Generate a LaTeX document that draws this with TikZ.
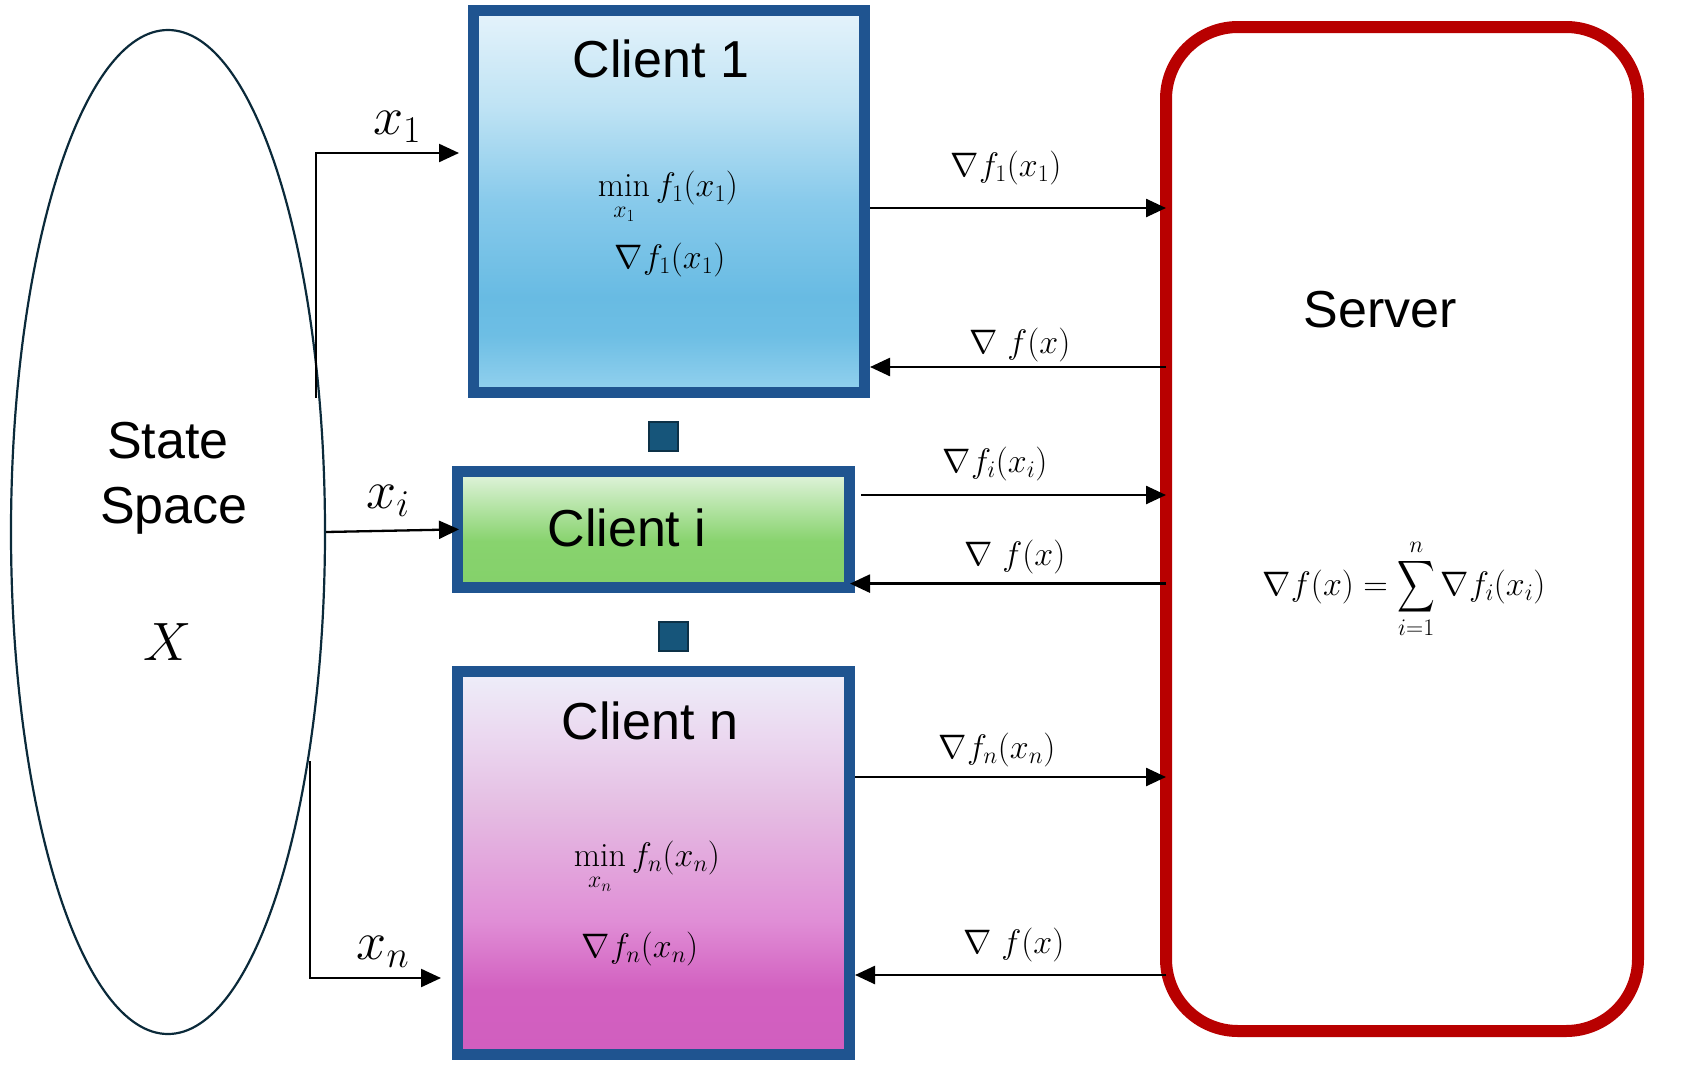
\RequirePackage{fix-cm}
\documentclass[tikz,border=0pt]{standalone}
\usepackage{amsmath}
\usepackage{exscale}
\usepackage{graphicx}
\usepackage{fontspec}
\setsansfont{Liberation Sans}
\usetikzlibrary{arrows.meta,shapes.geometric,calc}

% colours
\definecolor{boxblue}{HTML}{1F5490}
\definecolor{srvred}{HTML}{B80000}
\definecolor{sqfill}{HTML}{16557A}
\definecolor{sqline}{HTML}{0D3147}
\definecolor{ellline}{HTML}{0B2A3A}
% client 1 gradient (top to bottom: a..f)
\definecolor{ca}{HTML}{E5F3FB}
\definecolor{cb}{HTML}{BFE3F4}
\definecolor{cc}{HTML}{88CAEB}
\definecolor{cd}{HTML}{68BBE3}
\definecolor{ce}{HTML}{6DBEE4}
\definecolor{cf}{HTML}{93D1EE}
% client i gradient
\definecolor{ga}{HTML}{E3F4DF}
\definecolor{gb}{HTML}{B5E4A6}
\definecolor{gc}{HTML}{88D36E}
\definecolor{gd}{HTML}{84D16A}
% client n gradient
\definecolor{pa}{HTML}{EEEEF9}
\definecolor{pb}{HTML}{EAD4EE}
\definecolor{pc}{HTML}{E5BEE3}
\definecolor{pd}{HTML}{E08ED6}
\definecolor{pe}{HTML}{D260C0}
\definecolor{pf}{HTML}{D15EBF}

% vertical shadings: the box spans 25bp (bottom) to 75bp (top)
\pgfdeclareverticalshading{blueshade}{100bp}{color(0bp)=(cf); color(25bp)=(cf);
  color(32.5bp)=(ce); color(37.5bp)=(cd); color(50bp)=(cc); color(62.5bp)=(cb);
  color(75bp)=(ca); color(100bp)=(ca)}
\pgfdeclareverticalshading{greenshade}{100bp}{color(0bp)=(gd); color(25bp)=(gd);
  color(45bp)=(gc); color(60bp)=(gb); color(75bp)=(ga); color(100bp)=(ga)}
\pgfdeclareverticalshading{pinkshade}{100bp}{color(0bp)=(pf); color(25bp)=(pf);
  color(33.5bp)=(pe); color(42.5bp)=(pd); color(57.5bp)=(pc); color(65bp)=(pb);
  color(75bp)=(pa); color(100bp)=(pa)}

% min with its variable set a little lower under it
\newcommand{\minover}[1]{\min\limits_{\lower7pt\hbox{$\scriptstyle #1$}}}
% tall summation sign
\newcommand{\tallsum}{\mathop{\vcenter{\hbox{\scalebox{1.05}[1.45]{$\displaystyle\sum$}}}}\limits}

\begin{document}
\begin{tikzpicture}[x=1pt,y=-1pt,
  clientbox/.style={draw=boxblue, line width=11pt, inner sep=0pt,
    minimum width=392pt},
  title/.style={font=\sffamily\fontsize{52}{60}\selectfont, anchor=base, inner sep=0pt},
  smallmath/.style={font=\fontsize{34}{40}\selectfont, anchor=base, inner sep=0pt},
  bigmath/.style={font=\fontsize{54}{60}\selectfont, anchor=base, inner sep=0pt},
  dots/.style={draw=sqline, fill=sqfill, line width=2pt, minimum size=29pt, inner sep=0pt},
  arr/.style={line width=2.5pt, -{Triangle[length=20pt,width=18pt]}},
  feed/.style={line width=2.3pt, -{Triangle[length=20pt,width=18pt]}}]

\path[use as bounding box] (0,0) rectangle (1686,1068);

% state space
\node[ellipse, draw=ellline, line width=2.2pt, minimum width=314pt,
  minimum height=1004pt, inner sep=0pt] (ell) at (168,532) {};
\node[title] (st1) at (168,458) {State};
\node[title] (st2) at (174,523) {Space};
\node[bigmath] (xx) at (168,660) {$X$};

% clients
\node[clientbox, shading=blueshade, minimum width=391pt, minimum height=382pt]
  (c1) at (669,201.5) {};
\node[clientbox, shading=greenshade, minimum height=116pt] (ci) at (653.5,529.5) {};
\node[clientbox, shading=pinkshade, minimum height=383pt] (cn) at (653.5,863) {};

\node[title] (t1) at (661,77.5) {Client 1};
\node[smallmath] (m1) at (668,196) {$\minover{x_1} f_1(x_1)$};
\node[smallmath] (g1) at (670,268.6) {$\nabla f_1(x_1)$};
\node[title] (ti) at (627,546) {Client i};
\node[title] (tn) at (650,739.5) {Client n};
\node[smallmath] (mn) at (647,866) {$\minover{x_n} f_n(x_n)$};
\node[smallmath] (gn) at (640,957) {$\nabla f_n(x_n)$};

% ellipsis markers between clients
\node[dots] (d1) at (663,436) {};
\node[dots] (d2) at (673.5,636) {};

% server
\node[draw=srvred, line width=12pt, rounded corners=72pt, minimum width=472pt,
  minimum height=1004pt, inner sep=0pt, outer sep=0pt] (srv) at (1402,529) {};
\node[title] (stxt) at (1380,327) {Server};
\node[smallmath] (sum) at (1404,595)
  {$\nabla f(x) = \tallsum_{i=1}^{n} \nabla f_i(x_i)$};

% states sent to the clients
\coordinate (e1) at (316,398);
\coordinate (en) at (310,761);
\draw[feed, shorten >=9pt] (e1) |- (c1.west |- 0,153);
\draw[feed, shorten >=-7pt] (ell.east) -- (ci.west);
\draw[feed, shorten >=11pt] (en) |- (cn.west |- 0,978);
\node[bigmath] (lx1) at (397,134) {$x_1$};
\node[bigmath] (lxi) at (388,508) {$x_i$};
\node[bigmath] (lxn) at (383,959) {$x_n$};

% gradients exchanged with the server
\draw[arr] (c1.east |- 0,208) -- (srv.west |- 0,208);
\draw[arr] (srv.west |- 0,367) -- (c1.east |- 0,367);
\draw[arr, shorten <=6pt] (ci.east |- 0,495) -- (srv.west |- 0,495);
\draw[arr, shorten >=-5pt] (srv.west |- 0,583.6) -- (ci.east |- 0,583.6);
\draw[arr] (cn.east |- 0,777) -- (srv.west |- 0,777);
\draw[arr] (srv.west |- 0,975) -- (cn.east |- 0,975);

\node[smallmath] (a1) at (1006,176) {$\nabla f_1(x_1)$};
\node[smallmath] (b1) at (1020,353) {$\nabla\; f(x)$};
\node[smallmath] (ai) at (995,472) {$\nabla f_i(x_i)$};
\node[smallmath] (bi) at (1015,565) {$\nabla\; f(x)$};
\node[smallmath] (an) at (997,758) {$\nabla f_n(x_n)$};
\node[smallmath] (bn) at (1014,953) {$\nabla\; f(x)$};
\end{tikzpicture}
\end{document}
